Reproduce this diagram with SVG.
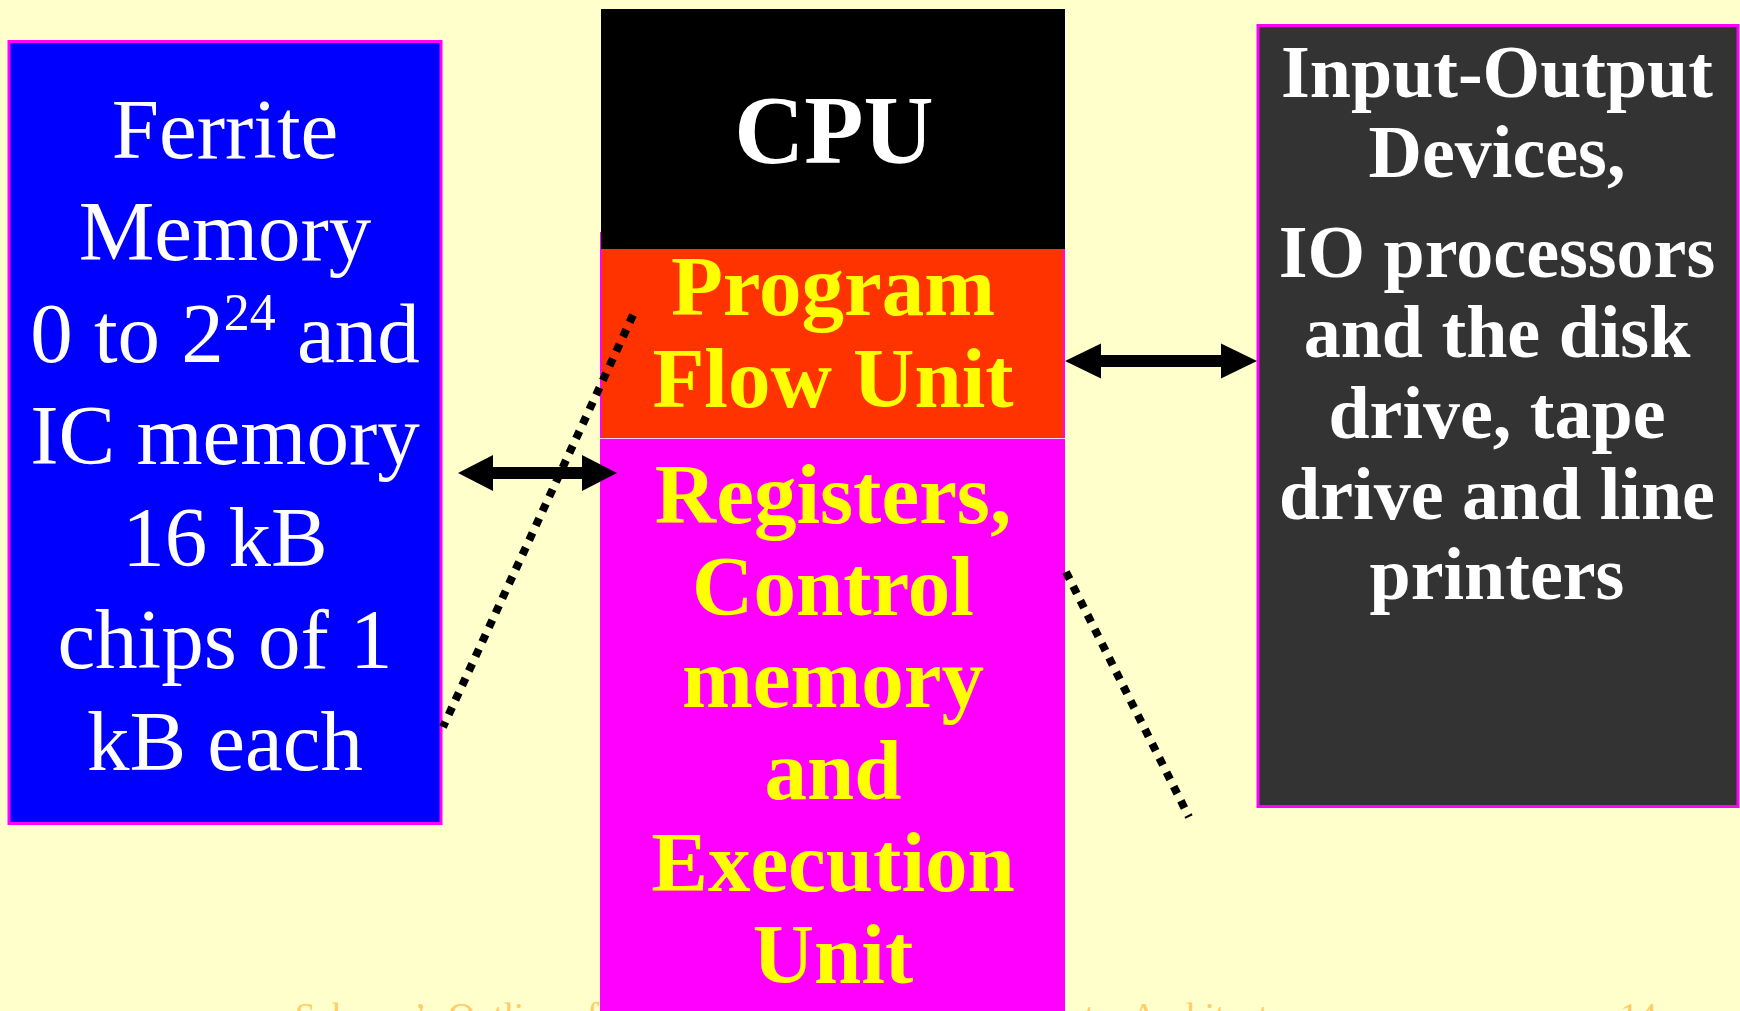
<svg xmlns="http://www.w3.org/2000/svg" width="1740" height="1011" viewBox="0 0 1740 1011">
<style>
.serif{font-family:"Liberation Serif","Times New Roman",serif;text-anchor:middle}
.w{fill:#FFFFFF}
.y{fill:#FFFF00}
.b{font-weight:bold}
.dot{fill:none;stroke:#000;stroke-width:8;stroke-dasharray:8 8}
.foot{font-family:"Liberation Serif","Times New Roman",serif;fill:#FFCC66;font-size:37px}
</style>
<rect x="0" y="0" width="1740" height="1011" fill="#FFFFCC"/>
<text class="foot" x="295" y="1029">Schaum’s Outline of Theory and Problems of Computer Architecture</text>
<text class="foot" x="1620" y="1029">14</text>
<g id="memory">
<rect x="9" y="41.5" width="432" height="782" fill="#0000FF" stroke="#FF00FF" stroke-width="3"/>
<g class="serif w" font-size="85">
<text x="225" y="158">Ferrite</text>
<text x="225" y="260">Memory</text>
<text x="225" y="362">0 to 2<tspan font-size="52" dy="-32">24</tspan><tspan dy="32"> and</tspan></text>
<text x="225" y="464">IC memory</text>
<text x="225" y="566">16 kB</text>
<text x="225" y="668">chips of 1</text>
<text x="225" y="770">kB each</text>
</g>
</g>
<g id="exec-unit">
<rect x="600" y="439" width="465" height="580" fill="#FF00FF"/>
<g class="serif y b" font-size="85">
<text x="833" y="523">Registers,</text>
<text x="833" y="615">Control</text>
<text x="833" y="707">memory</text>
<text x="833" y="799">and</text>
<text x="833" y="891">Execution</text>
<text x="833" y="983">Unit</text>
</g>
</g>
<g id="program-flow-unit">
<rect x="601" y="233" width="463" height="205" fill="#FF3300" stroke="#FF00FF" stroke-width="2"/>
<line x1="600" y1="438.5" x2="1065" y2="438.5" stroke="#FFCCFF" stroke-width="1"/>
<g class="serif y b" font-size="85">
<text x="833" y="315">Program</text>
<text x="833" y="407">Flow Unit</text>
</g>
</g>
<g id="cpu">
<rect x="601" y="9" width="464" height="240" fill="#000000"/>
<text class="serif w b" x="834" y="163" font-size="97">CPU</text>
</g>
<g id="io">
<rect x="1258" y="25.5" width="480" height="781" fill="#333333" stroke="#FF00FF" stroke-width="3"/>
<g class="serif w b" font-size="74">
<text x="1497" y="97">Input-Output</text>
<text x="1497" y="177">Devices,</text>
<text x="1497" y="277">IO processors</text>
<text x="1497" y="357">and the disk</text>
<text x="1497" y="438">drive, tape</text>
<text x="1497" y="519">drive and line</text>
<text x="1497" y="599">printers</text>
</g>
</g>
<g id="connectors">
<polygon points="458,473 493,455 493,467 582,467 582,455 617,473 582,491 582,479 493,479 493,491" fill="#000"/>
<polygon points="1065,361 1101,343.5 1101,355 1221,355 1221,343.5 1257,361 1221,378.5 1221,367 1101,367 1101,378.5" fill="#000"/>
<line class="dot" x1="633" y1="315" x2="443" y2="727"/>
<line class="dot" x1="1066" y1="572" x2="1189" y2="817"/>
</g>
</svg>
